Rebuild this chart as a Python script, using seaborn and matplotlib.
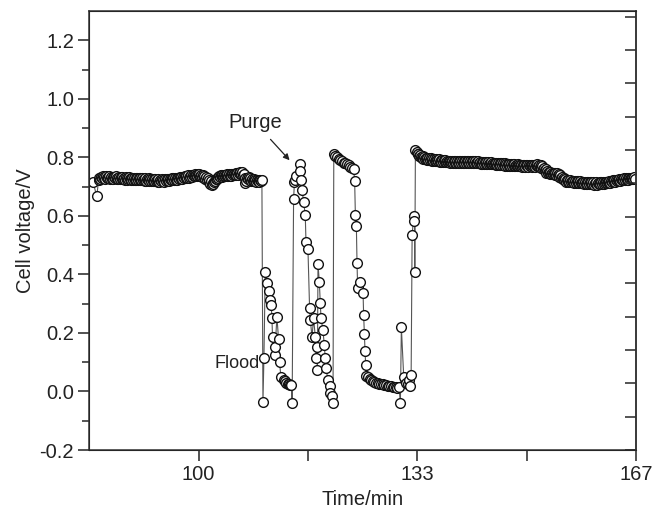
import numpy as np
import pandas as pd
import matplotlib
matplotlib.use('Agg')
import matplotlib.pyplot as plt
import seaborn as sns

# ==========================================
# DATA (time in min, cell voltage in V)
# ==========================================
# stable operation before the flood / purge cycles
time_stable1 = [83.9, 84.46, 84.75, 84.875,
                85.0, 85.125, 85.25, 85.375, 85.5, 85.625, 85.75, 85.875,
                86.0, 86.125, 86.25, 86.375, 86.5, 86.625, 86.75, 86.875,
                87.0, 87.125, 87.25, 87.375, 87.5, 87.625, 87.75, 87.875,
                88.0, 88.125, 88.25, 88.375, 88.5, 88.625, 88.75, 88.875,
                89.0, 89.125, 89.25, 89.375, 89.5, 89.625, 89.75, 89.875,
                90.0, 90.125, 90.25, 90.375, 90.5, 90.625, 90.75, 90.875,
                91.0, 91.125, 91.25, 91.375, 91.5, 91.625, 91.75, 91.875,
                92.0, 92.125, 92.25, 92.375, 92.5, 92.625, 92.75, 92.875,
                93.0, 93.125, 93.25, 93.375, 93.5, 93.625, 93.75, 93.875,
                94.0, 94.125, 94.25, 94.375, 94.5, 94.625, 94.75, 94.875,
                95.0, 95.125, 95.25, 95.375, 95.5, 95.625, 95.75, 95.875,
                96.0, 96.125, 96.25, 96.375, 96.5, 96.625, 96.75, 96.875,
                97.0, 97.125, 97.25, 97.375, 97.5, 97.625, 97.75, 97.875,
                98.0, 98.125, 98.25, 98.375, 98.5, 98.625, 98.75, 98.875,
                99.0, 99.125, 99.25, 99.375, 99.5, 99.625, 99.75, 99.875,
                100.0, 100.125, 100.25, 100.375, 100.5, 100.625, 100.75, 100.875,
                101.0, 101.125, 101.25, 101.375, 101.5, 101.625, 101.75, 101.875,
                102.0, 102.125, 102.25, 102.375, 102.5, 102.625, 102.75, 102.875,
                103.0, 103.125, 103.25, 103.375, 103.5, 103.625, 103.75, 103.875,
                104.0, 104.125, 104.25, 104.375, 104.5, 104.625, 104.75, 104.875,
                105.0, 105.125, 105.25, 105.375, 105.5, 105.625, 105.75, 105.875,
                106.0, 106.125, 106.25, 106.375, 106.5, 106.625, 106.75, 106.875,
                107.0, 107.125, 107.25, 107.375, 107.5, 107.625, 107.75, 107.875,
                108.0, 108.125, 108.25, 108.375, 108.5, 108.625, 108.75, 108.875,
                109.0, 109.125, 109.25, 109.375, 109.5, 109.64]
volt_stable1 = [0.716, 0.667, 0.721, 0.729,
                0.727, 0.734, 0.730, 0.736, 0.728, 0.733, 0.726, 0.735,
                0.728, 0.734, 0.729, 0.736, 0.727, 0.732, 0.726, 0.733,
                0.726, 0.733, 0.728, 0.735, 0.727, 0.731, 0.725, 0.734,
                0.725, 0.732, 0.727, 0.734, 0.726, 0.731, 0.724, 0.732,
                0.724, 0.731, 0.726, 0.733, 0.725, 0.730, 0.723, 0.731,
                0.722, 0.729, 0.724, 0.731, 0.723, 0.728, 0.721, 0.730,
                0.721, 0.728, 0.723, 0.730, 0.722, 0.727, 0.720, 0.729,
                0.719, 0.726, 0.721, 0.728, 0.720, 0.725, 0.718, 0.727,
                0.718, 0.725, 0.720, 0.727, 0.719, 0.724, 0.717, 0.726,
                0.717, 0.724, 0.719, 0.726, 0.718, 0.723, 0.716, 0.725,
                0.718, 0.725, 0.720, 0.727, 0.719, 0.725, 0.721, 0.728,
                0.721, 0.728, 0.723, 0.730, 0.722, 0.728, 0.724, 0.731,
                0.725, 0.732, 0.727, 0.734, 0.726, 0.732, 0.728, 0.735,
                0.729, 0.736, 0.731, 0.738, 0.730, 0.736, 0.732, 0.740,
                0.734, 0.741, 0.736, 0.743, 0.735, 0.741, 0.737, 0.744,
                0.737, 0.743, 0.735, 0.741, 0.733, 0.738, 0.730, 0.735,
                0.727, 0.733, 0.724, 0.729, 0.716, 0.722, 0.710, 0.718,
                0.705, 0.713, 0.709, 0.716, 0.720, 0.726, 0.727, 0.733,
                0.731, 0.737, 0.733, 0.739, 0.734, 0.740, 0.735, 0.741,
                0.735, 0.741, 0.736, 0.742, 0.737, 0.743, 0.736, 0.742,
                0.737, 0.743, 0.738, 0.744, 0.739, 0.745, 0.740, 0.746,
                0.741, 0.748, 0.742, 0.749, 0.743, 0.750, 0.738, 0.744,
                0.731, 0.712, 0.718, 0.730, 0.726, 0.733, 0.724, 0.729,
                0.720, 0.726, 0.719, 0.725, 0.718, 0.724, 0.717, 0.723,
                0.718, 0.724, 0.717, 0.723, 0.719, 0.722]

# flood / purge transients
time_transient = [109.80, 109.95, 110.15, 110.41, 110.65, 110.80, 111.06, 111.17, 111.26, 111.57,
                  111.67, 111.93, 112.18, 112.33, 112.54, 112.94, 113.15, 113.35, 113.55, 113.70,
                  113.95, 114.15, 114.25, 114.47, 114.60, 114.73, 114.85, 115.38, 115.45, 115.64,
                  115.75, 116.00, 116.25, 116.36, 116.66, 116.91, 117.02, 117.28, 117.52, 117.78,
                  117.93, 118.04, 118.10, 118.19, 118.39, 118.54, 118.65, 118.95, 119.15, 119.30,
                  119.46, 119.66, 119.96, 120.07, 120.33, 120.48, 120.60, 120.85, 121.09, 121.35,
                  121.60, 121.85, 122.10, 122.36, 122.60, 122.86, 123.10, 123.38, 123.63, 123.78,
                  123.89, 124.04, 124.14, 124.24, 124.65, 125.06, 125.15, 125.26, 125.36, 125.46,
                  125.56, 125.80, 126.05, 126.30, 126.55, 126.80, 127.05, 127.30, 127.55, 127.80,
                  128.05, 128.30, 128.55, 128.80, 129.05, 129.30, 129.55, 129.80, 130.05, 130.30,
                  130.55, 130.75, 130.90, 131.26, 131.60, 131.90, 132.10, 132.28, 132.39, 132.54,
                  132.78, 132.90, 132.95, 133.04]
volt_transient = [-0.035, 0.116, 0.409, 0.371, 0.344, 0.312, 0.295, 0.250, 0.187, 0.124,
                  0.153, 0.255, 0.178, 0.101, 0.048, 0.039, 0.035, 0.030, 0.027, 0.025,
                  0.023, 0.022, -0.039, 0.656, 0.716, 0.722, 0.735, 0.776, 0.753, 0.722,
                  0.690, 0.648, 0.602, 0.511, 0.486, 0.284, 0.244, 0.187, 0.250, 0.186,
                  0.113, 0.153, 0.075, 0.435, 0.375, 0.301, 0.250, 0.210, 0.158, 0.113,
                  0.079, 0.039, 0.018, -0.004, -0.016, -0.041, 0.810, 0.806, 0.801, 0.795,
                  0.790, 0.786, 0.782, 0.779, 0.776, 0.773, 0.768, 0.762, 0.760, 0.718,
                  0.602, 0.565, 0.439, 0.352, 0.375, 0.337, 0.261, 0.195, 0.139, 0.090,
                  0.053, 0.048, 0.042, 0.038, 0.035, 0.033, 0.030, 0.028, 0.027, 0.025,
                  0.024, 0.022, 0.021, 0.020, 0.019, 0.017, 0.016, 0.015, 0.014, 0.012,
                  0.015, -0.041, 0.219, 0.050, 0.030, 0.025, 0.040, 0.018, 0.056, 0.534,
                  0.599, 0.583, 0.409, 0.824]

# recovery after the last purge
time_stable2 = [133.25, 133.375, 133.5, 133.625, 133.75, 133.875,
                134.0, 134.125, 134.25, 134.375, 134.5, 134.625, 134.75, 134.875,
                135.0, 135.125, 135.25, 135.375, 135.5, 135.625, 135.75, 135.875,
                136.0, 136.125, 136.25, 136.375, 136.5, 136.625, 136.75, 136.875,
                137.0, 137.125, 137.25, 137.375, 137.5, 137.625, 137.75, 137.875,
                138.0, 138.125, 138.25, 138.375, 138.5, 138.625, 138.75, 138.875,
                139.0, 139.125, 139.25, 139.375, 139.5, 139.625, 139.75, 139.875,
                140.0, 140.125, 140.25, 140.375, 140.5, 140.625, 140.75, 140.875,
                141.0, 141.125, 141.25, 141.375, 141.5, 141.625, 141.75, 141.875,
                142.0, 142.125, 142.25, 142.375, 142.5, 142.625, 142.75, 142.875,
                143.0, 143.125, 143.25, 143.375, 143.5, 143.625, 143.75, 143.875,
                144.0, 144.125, 144.25, 144.375, 144.5, 144.625, 144.75, 144.875,
                145.0, 145.125, 145.25, 145.375, 145.5, 145.625, 145.75, 145.875,
                146.0, 146.125, 146.25, 146.375, 146.5, 146.625, 146.75, 146.875,
                147.0, 147.125, 147.25, 147.375, 147.5, 147.625, 147.75, 147.875,
                148.0, 148.125, 148.25, 148.375, 148.5, 148.625, 148.75, 148.875,
                149.0, 149.125, 149.25, 149.375, 149.5, 149.625, 149.75, 149.875,
                150.0, 150.125, 150.25, 150.375, 150.5, 150.625, 150.75, 150.875,
                151.0, 151.125, 151.25, 151.375, 151.5, 151.625, 151.75, 151.875,
                152.0, 152.125, 152.25, 152.375, 152.5, 152.625, 152.75, 152.875,
                153.0, 153.125, 153.25, 153.375, 153.5, 153.625, 153.75, 153.875,
                154.0, 154.125, 154.25, 154.375, 154.5, 154.625, 154.75, 154.875,
                155.0, 155.125, 155.25, 155.375, 155.5, 155.625, 155.75, 155.875,
                156.0, 156.125, 156.25, 156.375, 156.5, 156.625, 156.75, 156.875,
                157.0, 157.125, 157.25, 157.375, 157.5, 157.625, 157.75, 157.875,
                158.0, 158.125, 158.25, 158.375, 158.5, 158.625, 158.75, 158.875,
                159.0, 159.125, 159.25, 159.375, 159.5, 159.625, 159.75, 159.875,
                160.0, 160.125, 160.25, 160.375, 160.5, 160.625, 160.75, 160.875,
                161.0, 161.125, 161.25, 161.375, 161.5, 161.625, 161.75, 161.875,
                162.0, 162.125, 162.25, 162.375, 162.5, 162.625, 162.75, 162.875,
                163.0, 163.125, 163.25, 163.375, 163.5, 163.625, 163.75, 163.875,
                164.0, 164.125, 164.25, 164.375, 164.5, 164.625, 164.75, 164.875,
                165.0, 165.125, 165.25, 165.375, 165.5, 165.625, 165.75, 165.875,
                166.0, 166.125, 166.25, 166.375, 166.5]
volt_stable2 = [0.818, 0.813, 0.812, 0.806, 0.808, 0.801,
                0.797, 0.803, 0.795, 0.801, 0.794, 0.799, 0.792, 0.798,
                0.790, 0.797, 0.791, 0.796, 0.789, 0.795, 0.788, 0.794,
                0.787, 0.793, 0.786, 0.792, 0.787, 0.793, 0.785, 0.791,
                0.785, 0.791, 0.784, 0.790, 0.785, 0.791, 0.783, 0.789,
                0.783, 0.789, 0.782, 0.788, 0.783, 0.789, 0.782, 0.788,
                0.782, 0.788, 0.781, 0.787, 0.782, 0.789, 0.781, 0.788,
                0.782, 0.788, 0.781, 0.787, 0.782, 0.788, 0.781, 0.787,
                0.781, 0.787, 0.780, 0.786, 0.781, 0.787, 0.780, 0.786,
                0.780, 0.786, 0.779, 0.785, 0.780, 0.786, 0.779, 0.785,
                0.778, 0.784, 0.777, 0.783, 0.778, 0.784, 0.777, 0.783,
                0.777, 0.783, 0.776, 0.782, 0.777, 0.783, 0.776, 0.782,
                0.776, 0.782, 0.775, 0.781, 0.775, 0.781, 0.774, 0.780,
                0.774, 0.780, 0.773, 0.779, 0.773, 0.779, 0.772, 0.778,
                0.772, 0.778, 0.771, 0.777, 0.771, 0.777, 0.770, 0.776,
                0.770, 0.776, 0.769, 0.775, 0.770, 0.776, 0.769, 0.775,
                0.769, 0.775, 0.768, 0.774, 0.769, 0.775, 0.768, 0.774,
                0.769, 0.775, 0.768, 0.774, 0.769, 0.775, 0.768, 0.774,
                0.769, 0.775, 0.768, 0.774, 0.770, 0.776, 0.769, 0.775,
                0.768, 0.773, 0.764, 0.769, 0.760, 0.765, 0.755, 0.760,
                0.748, 0.753, 0.745, 0.750, 0.744, 0.749, 0.743, 0.748,
                0.742, 0.748, 0.741, 0.747, 0.740, 0.746, 0.738, 0.743,
                0.733, 0.738, 0.729, 0.733, 0.725, 0.729, 0.721, 0.726,
                0.717, 0.723, 0.716, 0.722, 0.715, 0.721, 0.714, 0.720,
                0.714, 0.720, 0.713, 0.719, 0.713, 0.719, 0.712, 0.718,
                0.712, 0.718, 0.711, 0.717, 0.711, 0.717, 0.710, 0.716,
                0.710, 0.716, 0.709, 0.715, 0.709, 0.715, 0.708, 0.714,
                0.708, 0.714, 0.707, 0.713, 0.708, 0.714, 0.707, 0.713,
                0.708, 0.714, 0.708, 0.714, 0.709, 0.715, 0.710, 0.716,
                0.711, 0.717, 0.711, 0.717, 0.712, 0.718, 0.713, 0.719,
                0.716, 0.722, 0.716, 0.722, 0.717, 0.723, 0.718, 0.724,
                0.720, 0.726, 0.720, 0.726, 0.721, 0.727, 0.722, 0.728,
                0.723, 0.729, 0.723, 0.729, 0.724, 0.730, 0.725, 0.731,
                0.725, 0.731, 0.726, 0.732, 0.727]

x_ticks = [100, 133.33, 166.67]
x_tick_labels = ['100', '133', '167']
y_ticks = [-0.2, 0.0, 0.2, 0.4, 0.6, 0.8, 1.0, 1.2]
y_tick_labels = ['-0.2', '0.0', '0.2', '0.4', '0.6', '0.8', '1.0', '1.2']

df = pd.DataFrame({
    'time': time_stable1 + time_transient + time_stable2,
    'voltage': volt_stable1 + volt_transient + volt_stable2,
})

# ==========================================
# PLOT
# ==========================================
sns.set_style('ticks')
plt.rcParams['font.family'] = ['Liberation Sans', 'DejaVu Sans']

fig = plt.figure(figsize=(6.63, 5.13), dpi=100)
ax = fig.add_axes([0.1347, 0.1228, 0.8246, 0.8558])

sns.lineplot(
    data=df, x='time', y='voltage', ax=ax, sort=False, estimator=None,
    color='#555555', linewidth=0.8,
    marker='o', markersize=7, markerfacecolor='white',
    markeredgecolor='#111111', markeredgewidth=1.0
)

ax.set_xlim(83.33, 166.67)
ax.set_ylim(-0.2, 1.3)
ax.set_xticks(x_ticks)
ax.set_xticklabels(x_tick_labels)
ax.set_xticks([116.67, 150], minor=True)
ax.set_yticks(y_ticks)
ax.set_yticklabels(y_tick_labels)
ax.set_yticks(np.arange(-0.1, 1.25, 0.2), minor=True)

ax.tick_params(axis='both', which='major', direction='out', length=8, width=1.1,
               labelsize=14.5, colors='#222222', pad=3)
ax.tick_params(axis='both', which='minor', direction='out', length=8, width=1.1)
ax.tick_params(axis='y', which='minor', length=5)

for side in ['left', 'bottom', 'right', 'top']:
    ax.spines[side].set_visible(True)
    ax.spines[side].set_linewidth(1.1)
    ax.spines[side].set_color('#333333')

ax.set_xlabel('Time/min', fontsize=14.5, color='#222222', labelpad=4)
ax.set_ylabel('Cell voltage/V', fontsize=14.5, color='#222222', labelpad=3)

# inward ticks on the right frame
ax2 = ax.twinx()
ax2.set_ylim(0, 13.17)
ax2.set_yticks(range(0, 14))
ax2.tick_params(axis='y', direction='in', length=8, width=1.1, labelright=False)
ax2.spines['right'].set_linewidth(1.1)
ax2.spines['right'].set_color('#333333')

ax.annotate('Purge', xy=(113.86, 0.790), xytext=(108.6, 0.919),
            ha='center', va='center', fontsize=14.5, color='#222222',
            arrowprops=dict(arrowstyle='-|>', color='#222222', lw=0.9,
                            shrinkA=4, shrinkB=0, mutation_scale=9))
ax.text(105.9, 0.097, 'Flood', ha='center', va='center', fontsize=13, color='#222222')

plt.savefig('out.png', dpi=100)
